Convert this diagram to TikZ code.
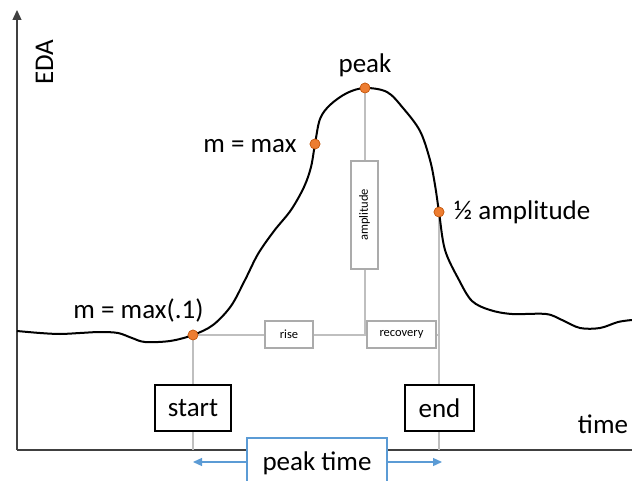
\documentclass[tikz,border=0pt]{standalone}
\usepackage{fontspec}
\setmainfont{Carlito}
\usetikzlibrary{arrows.meta}
\definecolor{dotorange}{HTML}{ED7D31}
\definecolor{dotedge}{HTML}{C55A11}
\definecolor{guidegray}{HTML}{BFBFBF}
\definecolor{boxgray}{HTML}{ABABAB}
\definecolor{ptblue}{HTML}{5B9BD5}
\definecolor{axisgray}{HTML}{404040}
\tikzset{
  big/.style={font=\fontsize{27}{32}\selectfont, inner sep=0pt},
  small/.style={font=\fontsize{12.5}{15}\selectfont, inner sep=0pt},
  guide/.style={draw=guidegray, line width=1.3pt},
  axisline/.style={draw=axisgray, line width=1.3pt},
  dot/.style={circle, fill=dotorange, draw=dotedge, line width=0.6pt, minimum size=10pt, inner sep=0pt},
  smallbox/.style={small, draw=boxgray, line width=1.4pt, fill=white, inner sep=0pt},
  evbox/.style={big, draw=black, line width=1.5pt, fill=white, inner sep=0pt, minimum height=46pt},
  ptarrow/.style={draw=ptblue, line width=1.3pt, -{Triangle[width=8pt,length=9pt]}},
}
\begin{document}
\begin{tikzpicture}[x=1pt, y=-1pt]
\useasboundingbox (0,0) rectangle (632,481);
% coordinates
\coordinate (yb) at (17,450);
\coordinate (yt) at (17,10);
\coordinate (xr) at (632,450);
\coordinate (pkbase) at (365,335);
\coordinate (hfbase) at (440,335);
\coordinate (stax) at (193,450);
\coordinate (enax) at (439,450);
\coordinate (pa) at (193,462);
\coordinate (pb) at (442,462);
% axes
\draw[axisline, -{Triangle[width=9pt,length=10pt]}] (yb) -- (yt);
\draw[axisline] (yb) -- (xr);
% dots (positions)
\node[dot] (st) at (193,335) {};
\node[dot] (mx) at (315,144) {};
\node[dot] (pk) at (365,88) {};
\node[dot] (hf) at (439,212) {};
% guide lines
\draw[guide] (pk) -- (pkbase);
\draw[guide] (st) -- (hfbase);
\draw[guide] (st) -- (stax);
\draw[guide] (hf) -- (enax);
% curve
\draw[black, line width=2pt, line join=round] plot[smooth, tension=0.55] coordinates {
 (17,331) (40,333) (60,334) (80,333) (100,332) (118,333) (132,338) (145,342) (170,341) (193,335)
 (213,325) (231,306) (245,280) (258,254) (274,231) (291,210) (304,187) (311,167) (315,144)
 (320,119) (330,105) (347,93) (365,88) (387,92) (403,108) (420,131) (430,160) (435,185) (439,212)
 (445,250) (459,280) (472,301) (490,310) (512,314) (546,314) (562,320) (580,328) (600,328) (618,322) (632,320)};
% small boxes
\node[smallbox, minimum width=48pt, minimum height=27pt] (rise) at (289,334.5) {rise};
\node[smallbox, minimum width=69pt, minimum height=27pt] (recov) at (401.5,334.5) {recovery};
\node[smallbox, rotate=90, minimum width=108pt, minimum height=27pt] (amp) at (364.5,215) {amplitude};
% redraw dots on top
\node[dot] at (st) {};
\node[dot] at (mx) {};
\node[dot] at (pk) {};
\node[dot] at (hf) {};
% event boxes
\node[evbox, minimum width=76pt] (start) at (193,408) {start};
\node[evbox, minimum width=69pt] (end) at (439.5,408) {end};
% peak time
\node[fill=white, minimum width=140pt, minimum height=43pt, inner sep=0pt] (ptbox) at (317,459.5) {};
\coordinate (ptbot) at (317,481);
\draw[draw=ptblue, line width=1.5pt] (ptbox.west |- ptbot) -- (ptbox.north west) -- (ptbox.north east) -- (ptbox.east |- ptbot);
\node[big, anchor=base] (pttext) at (317,470) {peak time};
\draw[ptarrow] (ptbox.west |- pa) -- (pa);
\draw[ptarrow] (ptbox.east |- pb) -- (pb);
% labels
\node[big, anchor=base] (eda) at (53,62) [rotate=90] {EDA};
\node[big, anchor=base] (tlab) at (603,433) {time};
\node[big, anchor=base] (lpk) at (365,73) {peak};
\node[big, anchor=base] (lmx) at (250,153) {m = max};
\node[big, anchor=base] (lst) at (138.5,318) {m = max(.1)};
\node[big, anchor=base west] (lhf) at (454,220) {½ amplitude};
\end{tikzpicture}
\end{document}
